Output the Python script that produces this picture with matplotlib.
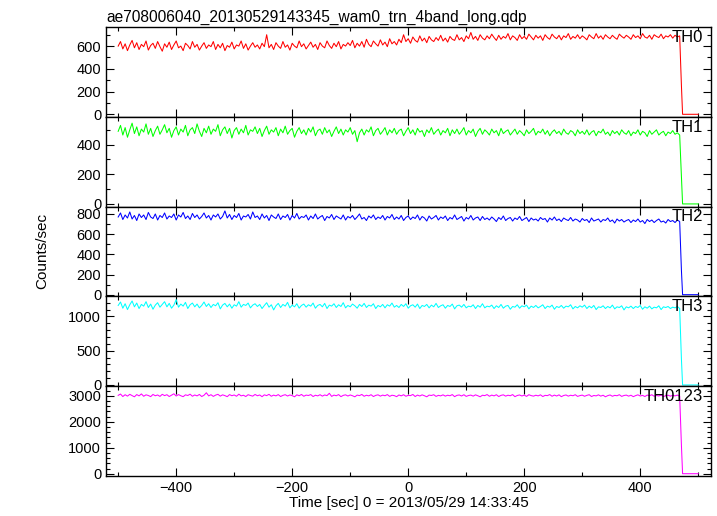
import numpy as np
import matplotlib
matplotlib.use("Agg")
import matplotlib.pyplot as plt
from matplotlib.ticker import MultipleLocator

plt.rcParams['font.family'] = ['Liberation Sans', 'DejaVu Sans']

title = "ae708006040_20130529143345_wam0_trn_4band_long.qdp"
xlabel = "Time [sec] 0 = 2013/05/29 14:33:45"
ylabel = "Counts/sec"
band_names = ["TH0", "TH1", "TH2", "TH3", "TH0123"]
band_colors = ["#ff0000", "#00ff00", "#0000ff", "#00ffff", "#ff00ff"]

# time bins (sec): start, step
t_start = -500
t_step = 4

th0 = [600, 640, 575, 620, 560, 610, 650, 585, 630, 570, 615, 595, 645, 565, 605, 625, 580, 640, 595, 555,
       620, 590, 635, 570, 610, 645, 585, 600, 560, 625, 605, 575, 640, 590, 615, 565, 600, 630, 580, 610,
       595, 640, 570, 615, 585, 625, 560, 605, 590, 635, 575, 610, 600, 645, 580, 620, 565, 600, 630, 590,
       610, 575, 625, 595, 700, 585, 615, 570, 630, 600, 580, 640, 590, 610, 565, 625, 600, 585, 645, 595,
       620, 575, 605, 635, 590, 615, 570, 630, 600, 585, 645, 605, 580, 625, 595, 640, 575, 615, 600, 630,
       605, 650, 585, 625, 600, 640, 590, 660, 615, 595, 645, 620, 600, 655, 610, 635, 595, 665, 620, 640,
       610, 660, 630, 700, 640, 665, 625, 680, 650, 635, 690, 645, 670, 630, 685, 655, 640, 675, 650, 695,
       645, 670, 635, 685, 660, 650, 700, 655, 675, 640, 690, 665, 720, 660, 685, 650, 700, 670, 655, 690,
       665, 705, 675, 650, 695, 660, 685, 670, 710, 655, 690, 675, 650, 700, 665, 685, 660, 705, 680, 655,
       695, 670, 690, 650, 700, 675, 660, 705, 680, 665, 695, 655, 690, 675, 710, 660, 685, 670, 700, 665,
       690, 675, 655, 700, 680, 665, 710, 670, 690, 660, 700, 680, 665, 695, 675, 660, 705, 685, 670, 695,
       680, 660, 700, 675, 690, 665, 710, 680, 670, 695, 660, 700, 685, 675, 705, 665, 690, 680, 700, 670,
       695, 680, 690]
th1 = [490, 530, 465, 515, 450, 500, 545, 475, 520, 460, 505, 485, 540, 470, 510, 455, 495, 525, 470, 500,
       535, 480, 510, 450, 495, 520, 465, 505, 485, 530, 460, 500, 515, 475, 540, 490, 455, 510, 480, 525,
       470, 505, 490, 535, 460, 500, 520, 475, 510, 445, 495, 515, 470, 505, 480, 530, 465, 500, 490, 520,
       475, 510, 455, 495, 525, 470, 500, 485, 515, 460, 505, 480, 525, 470, 495, 510, 450, 490, 515, 475,
       500, 465, 510, 485, 520, 460, 495, 505, 470, 515, 480, 500, 455, 490, 520, 475, 505, 465, 500, 485,
       515, 470, 495, 420, 480, 505, 465, 500, 485, 520, 460, 495, 510, 470, 490, 515, 465, 500, 480, 510,
       470, 495, 505, 460, 490, 515, 475, 500, 465, 510, 485, 495, 455, 500, 480, 515, 470, 490, 505, 465,
       495, 480, 510, 460, 500, 475, 505, 470, 490, 515, 465, 495, 480, 505, 455, 490, 510, 470, 500, 485,
       465, 505, 480, 495, 460, 510, 475, 490, 500, 465, 485, 505, 470, 495, 480, 460, 500, 475, 490, 510,
       465, 490, 480, 505, 470, 495, 460, 485, 500, 475, 490, 465, 505, 480, 470, 495, 485, 460, 500, 475,
       490, 470, 500, 465, 485, 495, 460, 490, 480, 505, 470, 485, 460, 495, 475, 490, 465, 500, 480, 470,
       495, 460, 485, 475, 500, 465, 490, 480, 455, 495, 470, 485, 500, 465, 480, 490, 460, 485, 475, 495,
       470, 480, 465]
th2 = [770, 810, 745, 790, 760, 820, 750, 785, 735, 800, 765, 790, 745, 815, 770, 755, 800, 740, 785, 765,
       810, 750, 780, 765, 800, 740, 790, 770, 815, 755, 780, 745, 805, 765, 790, 750, 775, 810, 760, 785,
       740, 790, 770, 800, 750, 775, 830, 760, 795, 745, 785, 765, 805, 740, 780, 770, 795, 750, 820, 765,
       780, 745, 800, 760, 785, 735, 790, 770, 755, 800, 745, 780, 765, 795, 740, 785, 760, 805, 750, 775,
       765, 790, 740, 780, 755, 800, 750, 770, 785, 735, 775, 760, 795, 745, 780, 765, 750, 790, 740, 775,
       760, 785, 745, 770, 800, 750, 765, 735, 780, 760, 790, 745, 770, 755, 785, 740, 775, 760, 795, 745,
       770, 750, 785, 735, 765, 780, 745, 770, 755, 790, 740, 775, 760, 730, 780, 750, 765, 785, 740, 770,
       755, 780, 735, 765, 750, 790, 745, 760, 775, 730, 765, 750, 785, 740, 760, 770, 735, 775, 745, 760,
       740, 770, 750, 725, 765, 745, 780, 735, 755, 765, 730, 760, 745, 775, 735, 750, 765, 725, 760, 740,
       750, 730, 765, 745, 755, 720, 760, 740, 770, 735, 750, 725, 760, 745, 735, 765, 730, 750, 740, 720,
       755, 735, 745, 715, 760, 730, 740, 750, 720, 745, 735, 760, 725, 740, 710, 750, 730, 745, 720, 735,
       745, 715, 740, 725, 750, 720, 735, 705, 745, 725, 740, 715, 735, 750, 720, 730, 710, 745, 725, 735,
       715, 740, 725]
th3 = [1160, 1210, 1120, 1185, 1100, 1170, 1225, 1140, 1195, 1115, 1175, 1150, 1215, 1130, 1180, 1105, 1165, 1200, 1135, 1175,
       1215, 1140, 1190, 1120, 1165, 1245, 1135, 1180, 1150, 1205, 1115, 1170, 1195, 1140, 1180, 1125, 1160, 1210, 1145, 1185,
       1130, 1175, 1155, 1200, 1110, 1165, 1190, 1140, 1180, 1120, 1170, 1150, 1215, 1135, 1175, 1160, 1195, 1125, 1165, 1185,
       1145, 1175, 1115, 1160, 1200, 1135, 1170, 1095, 1155, 1190, 1130, 1175, 1150, 1205, 1125, 1165, 1140, 1185, 1120, 1160,
       1180, 1135, 1170, 1150, 1195, 1120, 1160, 1175, 1140, 1190, 1115, 1165, 1150, 1185, 1130, 1170, 1145, 1200, 1125, 1160,
       1140, 1180, 1155, 1120, 1175, 1145, 1190, 1130, 1165, 1150, 1185, 1115, 1160, 1140, 1175, 1125, 1170, 1150, 1195, 1135,
       1160, 1130, 1175, 1145, 1185, 1120, 1155, 1170, 1135, 1180, 1115, 1160, 1145, 1175, 1125, 1165, 1140, 1190, 1130, 1155,
       1170, 1120, 1160, 1145, 1180, 1110, 1155, 1165, 1135, 1175, 1125, 1150, 1140, 1170, 1115, 1160, 1135, 1185, 1125, 1150,
       1140, 1165, 1115, 1155, 1130, 1175, 1120, 1150, 1160, 1105, 1145, 1135, 1170, 1120, 1155, 1140, 1165, 1110, 1150, 1130,
       1160, 1125, 1145, 1170, 1115, 1150, 1135, 1165, 1105, 1145, 1130, 1160, 1120, 1150, 1140, 1170, 1110, 1145, 1125, 1155,
       1135, 1165, 1115, 1150, 1125, 1160, 1100, 1140, 1130, 1155, 1115, 1145, 1125, 1165, 1110, 1140, 1130, 1155, 1095, 1140,
       1125, 1150, 1115, 1145, 1130, 1160, 1105, 1140, 1120, 1150, 1110, 1135, 1125, 1155, 1100, 1140, 1130, 1145, 1115, 1135,
       1125, 1145, 1115]
th0123 = [3020, 3070, 2975, 3045, 2990, 3060, 3010, 2965, 3050, 3000, 3075, 2985, 3040, 3015, 2970, 3055, 3005, 3035, 2980, 3060,
          3010, 3045, 2975, 3030, 3080, 2995, 3050, 3005, 2970, 3040, 3015, 3065, 2985, 3035, 3000, 3055, 2975, 3025, 3120, 3000,
          3045, 2980, 3030, 3060, 2990, 3040, 3010, 2970, 3050, 3005, 3035, 2985, 3065, 3000, 3025, 2975, 3045, 3015, 2990, 3055,
          3005, 3035, 2970, 3040, 3010, 3060, 2985, 3030, 3000, 3050, 2975, 3020, 3045, 2995, 3035, 3010, 2965, 3040, 3005, 3055,
          2985, 3030, 3015, 3050, 2975, 3025, 3000, 3045, 2990, 3035, 3010, 3100, 2980, 3030, 3005, 3050, 2970, 3020, 3040, 2995,
          3035, 3005, 2965, 3030, 3010, 3055, 2985, 3025, 3000, 3045, 2975, 3020, 3040, 2990, 3030, 3005, 3050, 2980, 3025, 3010,
          2970, 3035, 3000, 3045, 2985, 3020, 3010, 3055, 2975, 3030, 2995, 3040, 3005, 2965, 3030, 3015, 3045, 2980, 3020, 3000,
          3040, 2990, 3025, 3005, 3050, 2970, 3020, 3035, 2995, 3045, 2980, 3015, 3030, 2990, 3040, 3005, 2965, 3025, 3010, 3050,
          2985, 3030, 3000, 3045, 2975, 3020, 3040, 2990, 3025, 3005, 3050, 2970, 3015, 3035, 2995, 3030, 2980, 3045, 3010, 2990,
          3025, 3000, 3040, 2975, 3020, 3010, 3050, 2985, 3030, 2995, 3040, 2970, 3015, 3035, 2990, 3025, 3005, 3045, 2980, 3010,
          3030, 2985, 3020, 3045, 2975, 3015, 3000, 3040, 2990, 3025, 2965, 3010, 3035, 2985, 3020, 3005, 3045, 2980, 3015, 3030,
          2990, 3025, 2970, 3010, 3040, 2995, 3020, 2975, 3030, 3005, 3045, 2985, 3015, 2995, 3035, 2970, 3010, 3025, 2990, 3020,
          3000, 3030, 2985]

# end of observation: partial bin then zero
tail_times = [471, 473, 500]
tail_th0 = [254, 0, 0]
tail_th1 = [186, 0, 0]
tail_th2 = [243, 0, 0]
tail_th3 = [380, 0, 0]
tail_th0123 = [1100, 0, 0]

series = [th0, th1, th2, th3, th0123]
tails = [tail_th0, tail_th1, tail_th2, tail_th3, tail_th0123]

ylims = [(-22, 768), (-18, 588), (-17, 873), (-18, 1292), (-88, 3373)]
ymajor = [200, 200, 200, 500, 1000]
yminor = [100, 100, 100, 100, 200]
xlim = (-521, 522)

W, H = 717, 516
fig = plt.figure(figsize=(W / 100, H / 100), dpi=100)

left_px, right_px = 106, 711
top_px, bottom_px = 27, 476
n = 5
ph = (bottom_px - top_px) / n

axes = []
for i in range(n):
    y0 = top_px + ph * (i + 1)
    ax = fig.add_axes([left_px / W, 1 - y0 / H, (right_px - left_px) / W, ph / H])
    vals = series[i]
    t = t_start + t_step * np.arange(len(vals))
    tt = np.concatenate([t, tail_times])
    vv = np.concatenate([vals, tails[i]])
    ax.plot(tt, vv, color=band_colors[i], lw=0.75)
    ax.set_xlim(*xlim)
    ax.set_ylim(*ylims[i])
    ax.xaxis.set_major_locator(MultipleLocator(200))
    ax.xaxis.set_minor_locator(MultipleLocator(100))
    ax.yaxis.set_major_locator(MultipleLocator(ymajor[i]))
    ax.yaxis.set_minor_locator(MultipleLocator(yminor[i]))
    ax.tick_params(which='both', direction='in', top=True, right=True,
                   labelsize=10.5, colors='black', width=0.8)
    ax.tick_params(which='major', length=6)
    ax.tick_params(which='minor', length=3)
    for sp in ax.spines.values():
        sp.set_linewidth(1.0)
    if i < n - 1:
        ax.tick_params(labelbottom=False)
    ax.text(0.987, 0.885, band_names[i], transform=ax.transAxes,
            ha='right', va='center', fontsize=12)
    axes.append(ax)

axes[-1].set_xlabel(xlabel, fontsize=11, labelpad=1)
axes[0].set_title(title, loc='left', fontsize=11.2, pad=4)
fig.text(42 / W, 1 - 251 / H, ylabel, rotation=90, ha='center', va='center', fontsize=11)

fig.savefig("out.png", dpi=100)
